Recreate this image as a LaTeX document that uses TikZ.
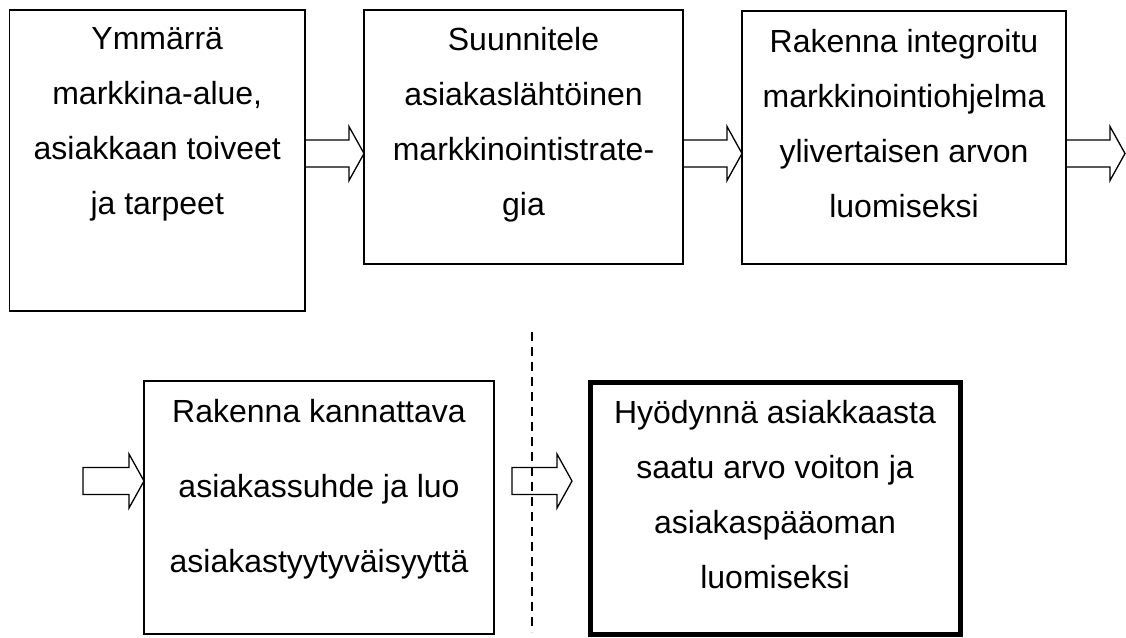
\documentclass[tikz,border=0pt]{standalone}
\usepackage{fontspec}
\setmainfont{Liberation Sans}
\usetikzlibrary{positioning,calc}

\newcommand{\hollowarrow}[2]{%
  \draw[blockarrow] let \p1=#1, \p2=#2 in
    (\x1,\y1+13.5pt) -- (\x2-15pt,\y1+13.5pt) -- (\x2-15pt,\y1+27pt) -- (\x2,\y1)
    -- (\x2-15pt,\y1-27pt) -- (\x2-15pt,\y1-13.5pt) -- (\x1,\y1-13.5pt) -- cycle;}

\begin{document}
\begin{tikzpicture}[x=1pt,y=-1pt,
  stepbox/.style={draw,line width=1.3pt,inner sep=0pt,outer sep=0pt},
  boxtext/.style={align=center,inner sep=0pt,font=\fontsize{32}{55}\selectfont},
  blockarrow/.style={draw,line width=1.3pt,line join=miter},
  divider/.style={line width=1.3pt,dash pattern=on 9pt off 6pt}]
  \useasboundingbox (0,0) rectangle (1126,637);

  % upper row
  \node[stepbox,minimum width=295.5pt,minimum height=301pt] (understand) at (157.25,160.5) {};
  \node[stepbox,minimum width=319pt,minimum height=254pt] (design) at (523.5,137) {};
  \node[stepbox,minimum width=324pt,minimum height=253pt] (program) at (904,137.5) {};

  \node[boxtext,below=17pt of understand.north] (understand-t) {Ymmärrä\\markkina-alue,\\asiakkaan toiveet\\ja tarpeet};
  \node[boxtext,below=17pt of design.north] (design-t) {Suunnitele\\asiakaslähtöinen\\markkinointistrate-\\gia};
  \node[boxtext,below=18pt of program.north] (program-t) {Rakenna integroitu\\markkinointiohjelma\\ylivertaisen arvon\\luomiseksi};

  % lower row
  \node[stepbox,minimum width=350pt,minimum height=253pt] (relation) at (319,507.5) {};
  \node[stepbox,line width=5pt,minimum width=370pt,minimum height=252pt] (capture) at (775,508) {};

  \node[boxtext,font=\fontsize{32}{75}\selectfont,below=18pt of relation.north] (relation-t) {Rakenna kannattava\\asiakassuhde ja luo\\asiakastyytyväisyyttä};
  \node[boxtext,below=18pt of capture.north] (capture-t) {Hyödynnä asiakkaasta\\saatu arvo voiton ja\\asiakaspääoman\\luomiseksi};

  % block arrows
  \coordinate (row1) at (0,153.5);
  \coordinate (row2) at (0,481);
  \coordinate (out) at (1125,153.5);
  \coordinate (in) at (83,481);
  \coordinate (cut) at (512,481);
  \coordinate (cutend) at (572,481);
  \hollowarrow{(understand.east |- row1)}{(design.west |- row1)}
  \hollowarrow{(design.east |- row1)}{(program.west |- row1)}
  \hollowarrow{(program.east |- row1)}{(out)}
  \hollowarrow{(in)}{(relation.west |- row2)}
  \hollowarrow{(cut)}{(cutend)}

  % dividing line
  \coordinate (d1) at (532,332);
  \coordinate (d2) at (532,632);
  \draw[divider] (d1) -- (d2);
\end{tikzpicture}
\end{document}
